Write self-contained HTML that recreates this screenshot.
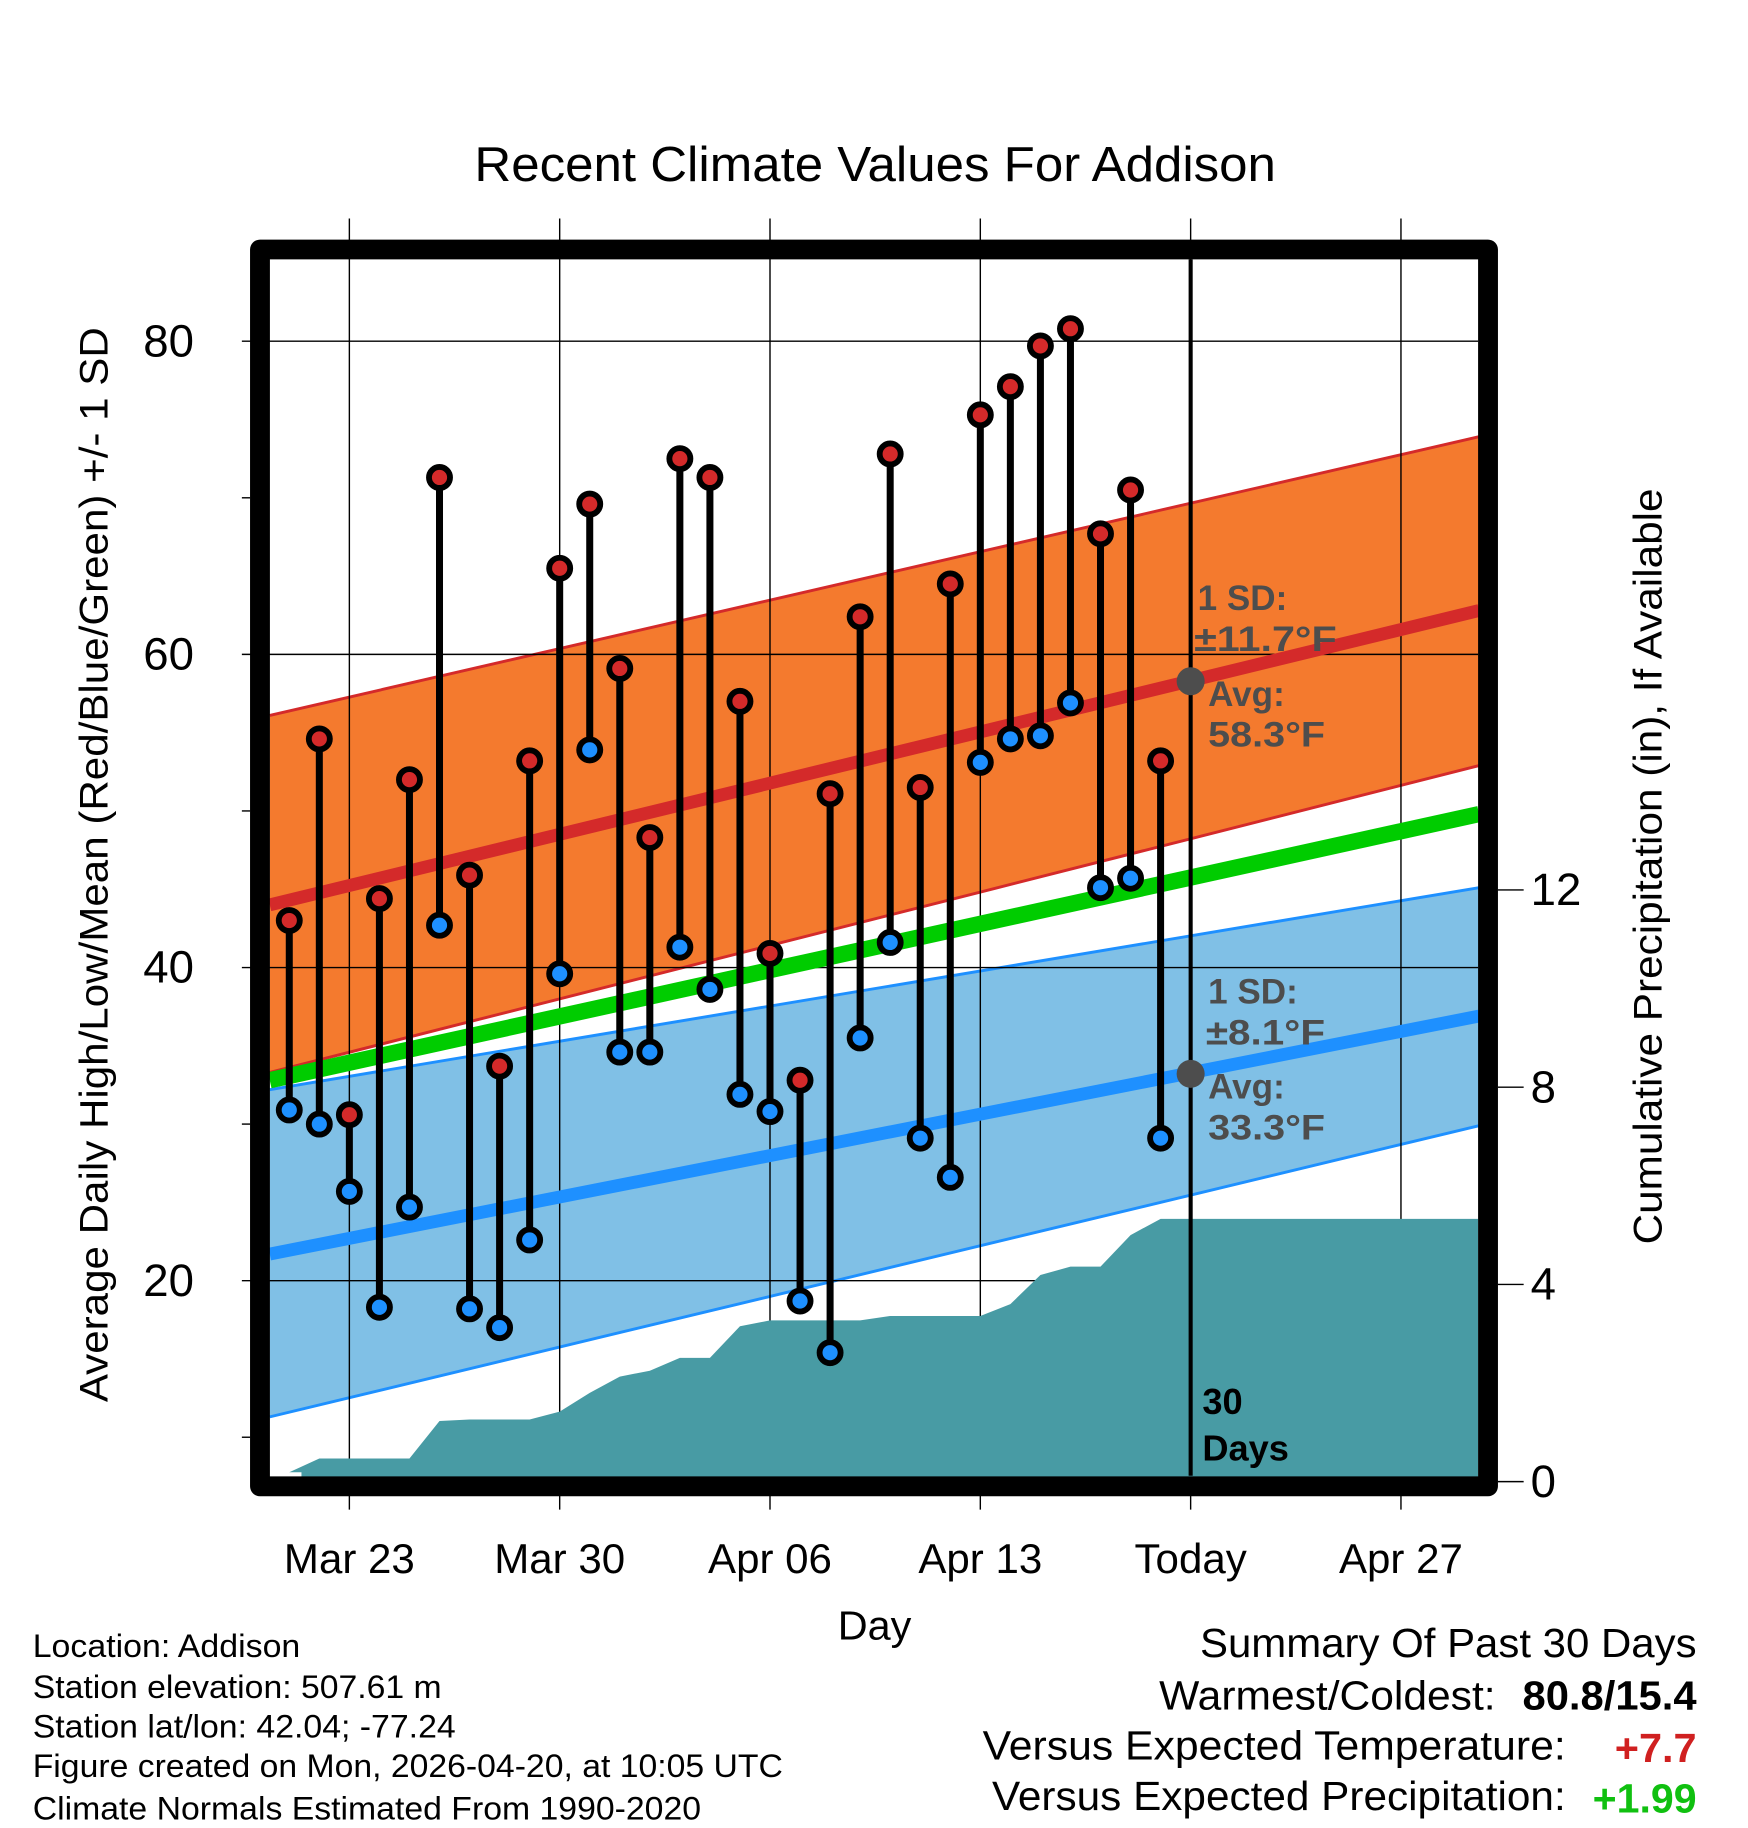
<!DOCTYPE html>
<html><head><meta charset="utf-8"><style>
html,body{margin:0;padding:0;background:#fff;}
svg{display:block;font-family:"Liberation Sans",Arial,sans-serif;}
</style></head><body>
<svg id="chart" width="1748" height="1828" viewBox="0 0 1496 1564.4" xmlns="http://www.w3.org/2000/svg">
<rect width="1496" height="1564.4" fill="#fff"/>
<g id="bands"></g>
<g id="grid"></g>
<g id="precip"></g>
<g id="means"></g>
<g id="stems"></g>
<g id="annot">
  <line x1="1019" y1="222" x2="1019" y2="1263" stroke="#000" stroke-width="3.5"/>
  <circle cx="1019" cy="583" r="12" fill="#4d4d4d"/>
  <circle cx="1019" cy="919" r="12" fill="#4d4d4d"/>
  <g font-weight="bold" font-size="30" fill="#4d4d4d">
    <text x="1025" y="522">1 SD:</text>
    <text x="1022" y="557" textLength="122" lengthAdjust="spacingAndGlyphs">±11.7°F</text>
    <text x="1034" y="604">Avg:</text>
    <text x="1034" y="639" textLength="100" lengthAdjust="spacingAndGlyphs">58.3°F</text>
    <text x="1034" y="859">1 SD:</text>
    <text x="1032" y="894" textLength="102" lengthAdjust="spacingAndGlyphs">±8.1°F</text>
    <text x="1034" y="940">Avg:</text>
    <text x="1034" y="975" textLength="100" lengthAdjust="spacingAndGlyphs">33.3°F</text>
  </g>
  <text x="1029" y="1210" font-weight="bold" font-size="31" fill="#000">30</text>
  <text x="1029" y="1250" font-weight="bold" font-size="31" fill="#000">Days</text>
</g>
<rect x="222.5" y="213.5" width="1051" height="1058.5" fill="none" stroke="#000" stroke-width="17" stroke-linejoin="round"/>
<g id="axes"></g>
<text x="406" y="155" font-size="42" textLength="686" lengthAdjust="spacingAndGlyphs">Recent Climate Values For Addison</text>
<text transform="translate(92,1200) rotate(-90)" font-size="34" textLength="920" lengthAdjust="spacingAndGlyphs">Average Daily High/Low/Mean (Red/Blue/Green) +/- 1 SD</text>
<text transform="translate(1422,1065) rotate(-90)" font-size="34" textLength="647" lengthAdjust="spacingAndGlyphs">Cumulative Precipitation (in), If Available</text>
<text x="717" y="1403" font-size="35" textLength="63" lengthAdjust="spacingAndGlyphs">Day</text>
<g font-size="28">
  <text x="28" y="1418" textLength="229" lengthAdjust="spacingAndGlyphs">Location: Addison</text>
  <text x="28" y="1453" textLength="350" lengthAdjust="spacingAndGlyphs">Station elevation: 507.61 m</text>
  <text x="28" y="1487" textLength="362" lengthAdjust="spacingAndGlyphs">Station lat/lon: 42.04; -77.24</text>
  <text x="28" y="1521" textLength="642" lengthAdjust="spacingAndGlyphs">Figure created on Mon, 2026-04-20, at 10:05 UTC</text>
  <text x="28" y="1557" textLength="572" lengthAdjust="spacingAndGlyphs">Climate Normals Estimated From 1990-2020</text>
</g>
<g font-size="35">
  <text x="1027" y="1418" textLength="425" lengthAdjust="spacingAndGlyphs">Summary Of Past 30 Days</text>
  <text x="992" y="1463" textLength="288" lengthAdjust="spacingAndGlyphs">Warmest/Coldest:</text>
  <text x="1303" y="1463" font-weight="bold" textLength="149" lengthAdjust="spacingAndGlyphs">80.8/15.4</text>
  <text x="841" y="1506" textLength="499" lengthAdjust="spacingAndGlyphs">Versus Expected Temperature:</text>
  <text x="1382" y="1508" font-weight="bold" fill="#d02020" textLength="70" lengthAdjust="spacingAndGlyphs">+7.7</text>
  <text x="849" y="1549" textLength="491" lengthAdjust="spacingAndGlyphs">Versus Expected Precipitation:</text>
  <text x="1363" y="1551" font-weight="bold" fill="#10c010" textLength="89" lengthAdjust="spacingAndGlyphs">+1.99</text>
</g>
</svg>
<script>
// ---- data ----
const dayHighs = [43.0,54.6,30.6,44.4,52.0,71.3,45.9,33.7,53.2,65.5,69.6,59.1,48.3,72.5,71.3,57.0,40.9,32.8,51.1,62.4,72.8,51.5,64.5,75.3,77.1,79.7,80.8,67.7,70.5,53.2];
const dayLows = [30.9,30.0,25.7,18.3,24.7,42.7,18.2,17.0,22.6,39.6,53.9,34.6,34.6,41.3,38.6,31.9,30.8,18.7,15.4,35.5,41.6,29.1,26.6,53.1,54.6,54.8,56.9,45.1,45.7,29.1];
const cumPrecip = [0.15,0.47,0.47,0.47,0.47,1.23,1.26,1.26,1.26,1.42,1.80,2.13,2.25,2.51,2.51,3.15,3.27,3.27,3.27,3.27,3.36,3.36,3.36,3.36,3.60,4.19,4.36,4.36,5.00,5.33];
const normDays = [-0.65, 39.6];
const normHighMean = [44.0, 62.8];
const normHighUpper = [56.1, 73.9];
const normHighLower = [33.3, 52.9];
const normLowMean = [21.7, 36.9];
const normLowUpper = [32.2, 45.1];
const normLowLower = [11.3, 29.9];
const normAvgMean = [32.8, 49.8];
const xTickDays = [2, 9, 16, 23, 30, 37];
const xTickLabels = ["Mar 23","Mar 30","Apr 06","Apr 13","Today","Apr 27"];
const yTicks = [20, 40, 60, 80];
const yMinorTicks = [10, 30, 50, 70];
const y2Ticks = [0, 4, 8, 12];

// ---- scales ----
const X = d => 299 + (d - 2) * 25.714;
const Y = v => 560 - (v - 60) * 13.4;
const Y2 = p => 1268 - p * 42.2;
const L = 231, R = 1265, T = 222, B = 1260;
const NS = "http://www.w3.org/2000/svg";
function mk(tag, parent, attrs){const e=document.createElementNS(NS,tag);for(const k in attrs)e.setAttribute(k,attrs[k]);parent.appendChild(e);return e;}

const bands = document.getElementById('bands');
function band(up, lo, fill){
  const pts = [[X(normDays[0]),Y(up[0])],[X(normDays[1]),Y(up[1])],[X(normDays[1]),Y(lo[1])],[X(normDays[0]),Y(lo[0])]];
  return mk('polygon', bands, {points: pts.map(q=>q.join(',')).join(' '), fill: fill});
}
const hb = band(normHighUpper, normHighLower, '#f47a2e');


const lb = band(normLowUpper, normLowLower, '#80c0e6');


function edge(arr, color, w, parent){
  return mk('line', parent, {x1:X(normDays[0]), y1:Y(arr[0]), x2:X(normDays[1]), y2:Y(arr[1]), stroke:color, 'stroke-width':w});
}
const e1 = edge(normHighUpper,'#d42a2a',2.5,bands);


const e2 = edge(normHighLower,'#d42a2a',2.5,bands);


const e3 = edge(normLowUpper,'#1e90ff',2.5,bands);


const e4 = edge(normLowLower,'#1e90ff',2.5,bands);



const grid = document.getElementById('grid');
xTickDays.forEach((d,i)=>{
  const g = mk('line', grid, {x1:X(d), y1:187, x2:X(d), y2:1292, stroke:'#000', 'stroke-width':1.2});
  
  
});
yTicks.forEach(v=>{
  const g = mk('line', grid, {x1:207, y1:Y(v), x2:R, y2:Y(v), stroke:'#000', 'stroke-width':1.2});
  
  
});

const pg = document.getElementById('precip');
let pp = [[258, B]];
cumPrecip.forEach((p,i)=>pp.push([X(i), Math.min(B, Y2(p))]));
pp.push([R, Y2(cumPrecip[cumPrecip.length-1])]);
pp.push([R, 1264]); pp.push([258, 1264]);
const area = mk('polygon', pg, {points: pp.map(q=>q.join(',')).join(' '), fill:'#489ba4'});



const means = document.getElementById('means');
const m1 = edge(normAvgMean,'#00cc00',14,means);


const m2 = edge(normHighMean,'#d42a2a',11,means);


const m3 = edge(normLowMean,'#1e90ff',11,means);



const stems = document.getElementById('stems');
dayHighs.forEach((h,i)=>{
  const x = X(i), lo = dayLows[i];
  const s = mk('line', stems, {x1:x, y1:Y(h), x2:x, y2:Y(lo), stroke:'#000', 'stroke-width':6});
  
  
  const ch = mk('circle', stems, {cx:x, cy:Y(h), r:9, fill:'#d42a2a', stroke:'#000', 'stroke-width':5});
  
  
  const cl = mk('circle', stems, {cx:x, cy:Y(lo), r:9, fill:'#1e90ff', stroke:'#000', 'stroke-width':5});
  
  
});

const axes = document.getElementById('axes');
yTicks.forEach(v=>{
  const t = mk('text', axes, {x:166, y:Y(v)+13, 'text-anchor':'end', 'font-size':39});
  t.textContent = v;
  
  
});
yMinorTicks.forEach(v=>{
  const t = mk('line', axes, {x1:207, y1:Y(v), x2:214, y2:Y(v), stroke:'#000', 'stroke-width':1.2});
  
  
});
y2Ticks.forEach(p=>{
  const tk = mk('line', axes, {x1:1282, y1:Y2(p), x2:1304, y2:Y2(p), stroke:'#000', 'stroke-width':1.2});
  
  
  const t = mk('text', axes, {x:1310, y:Y2(p)+13, 'font-size':39});
  t.textContent = p;
  
  
});
xTickDays.forEach((d,i)=>{
  const t = mk('text', axes, {x:X(d), y:1346, 'text-anchor':'middle', 'font-size':36});
  t.textContent = xTickLabels[i];
  
  
});
</script>
</body></html>
